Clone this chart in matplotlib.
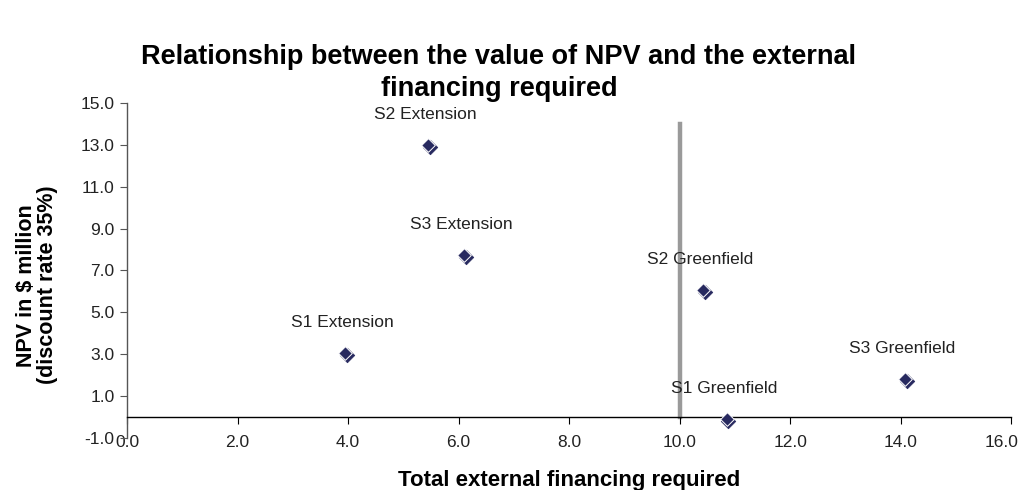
import matplotlib.pyplot as plt
import matplotlib.transforms as mtransforms

plt.rcParams['font.family'] = ['Liberation Sans', 'DejaVu Sans']

# Projects: external financing required vs NPV
projects = ['S1 Extension', 'S2 Extension', 'S3 Extension',
            'S1 Greenfield', 'S2 Greenfield', 'S3 Greenfield']
financing = [3.95, 5.45, 6.1, 10.85, 10.42, 14.08]
npv = [3.05, 13.0, 7.75, -0.1, 6.05, 1.8]

# vertical reference line at 10.0
ref_x = 10.0
ref_top = 14.0

x_ticks = [0, 2, 4, 6, 8, 10, 12, 14, 16]
y_ticks = [-1, 1, 3, 5, 7, 9, 11, 13, 15]

navy = '#27295f'

fig = plt.figure(figsize=(10.18, 4.9), dpi=100)
ax = fig.add_axes([0.1248, 0.106, 0.8684, 0.684])

ax.plot([ref_x, ref_x], [0, ref_top], color='#9a9a9a', lw=3.2, zorder=1)

# diamond with a light edge highlight, similar to the original markers
shift = mtransforms.offset_copy(ax.transData, fig=fig, x=1.3, y=-1.3, units='points')
ax.scatter(financing, npv, marker='D', s=55, color=navy, edgecolor=navy,
           linewidths=0.5, transform=shift, zorder=3)
ax.scatter(financing, npv, marker='D', s=48, color=navy, edgecolor='white',
           linewidths=0.7, zorder=4)

for name, xv, yv in zip(projects, financing, npv):
    ax.annotate(name, (xv, yv), xytext=(-2, 22), textcoords='offset points',
                ha='center', va='center', fontsize=12.5, color='#222222')

ax.set_xlim(0, 16)
ax.set_ylim(-1, 15)
ax.set_xticks(x_ticks)
ax.set_yticks(y_ticks)
ax.set_xticklabels([f'{v:.1f}' for v in x_ticks])
ax.set_yticklabels([f'{v:.1f}' for v in y_ticks])

ax.spines['top'].set_visible(False)
ax.spines['right'].set_visible(False)
ax.spines['bottom'].set_position(('data', 0))
ax.spines['bottom'].set_color('black')
ax.spines['left'].set_color('#555555')
ax.spines['bottom'].set_linewidth(1.0)
ax.spines['left'].set_linewidth(1.0)

ax.tick_params(axis='x', direction='out', length=5, pad=8, labelsize=12.5,
               color='black', labelcolor='#222222')
ax.tick_params(axis='y', direction='out', length=5, pad=4, labelsize=12.5,
               color='#555555', labelcolor='#222222')

# keep the last x label inside the figure edge
last = ax.xaxis.get_major_ticks()[-1].label1
last.set_horizontalalignment('right')
last.set_transform(last.get_transform()
                   + mtransforms.ScaledTranslation(5 / 72, 0, fig.dpi_scale_trans))

fig.text(0.490, 0.852, 'Relationship between the value of NPV and the external\nfinancing required',
         ha='center', va='center', fontsize=19.5, fontweight='bold', linespacing=1.3)
fig.text(0.036, 0.418, 'NPV in $ million\n(discount rate 35%)', rotation=90,
         ha='center', va='center', fontsize=15.5, fontweight='bold', linespacing=1.0)
fig.text(0.559, 0.02, 'Total external financing required', ha='center', va='center',
         fontsize=16, fontweight='bold')

fig.savefig('out.png', dpi=100)
